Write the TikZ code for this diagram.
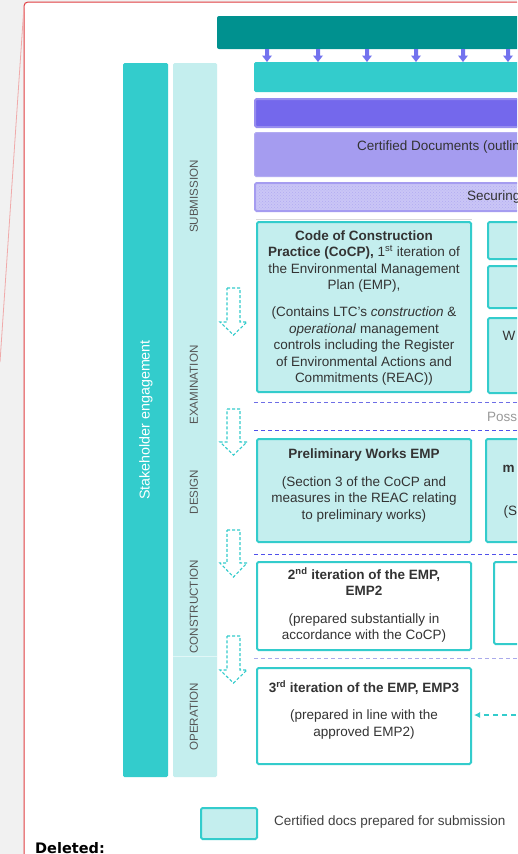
\documentclass[tikz,border=0pt]{standalone}
\usepackage{fontspec}
\setmainfont{Liberation Sans}
\newfontfamily\delfont{DejaVu Sans}
\usetikzlibrary{arrows.meta,patterns}
\definecolor{dteal}{RGB}{0,145,143}
\definecolor{tealb}{RGB}{51,204,204}
\definecolor{lteal}{RGB}{196,238,238}
\definecolor{dpurp}{RGB}{116,104,236}
\definecolor{lpurp}{RGB}{165,156,240}
\definecolor{hpurp}{RGB}{202,198,246}
\definecolor{arrp}{RGB}{114,114,238}
\definecolor{txtc}{RGB}{51,51,51}
\definecolor{redb}{RGB}{224,60,64}
\definecolor{pinkl}{RGB}{240,170,170}
\definecolor{bgg}{RGB}{241,241,241}
\definecolor{phasetxt}{RGB}{85,85,85}
\definecolor{sepa}{RGB}{110,110,230}
\definecolor{sepb}{RGB}{80,80,235}
\definecolor{sepc}{RGB}{170,170,235}
\newcommand\mystrut{\rule{0pt}{12pt}}
\newcommand\dnarrow[3]{%
  \draw[darr] (227,#1) -- (240,#1) -- (240,#2) -- (247,#2) -- (233.5,#3) -- (220,#2) -- (227,#2) -- cycle;}
\begin{document}
\begin{tikzpicture}[x=1pt,y=-1pt,
  rect/.style={inner sep=0pt, outer sep=0pt, anchor=north west},
  cbox/.style={rect, fill=lteal, draw=tealb, line width=2pt, rounded corners=1.5pt},
  wbox/.style={rect, fill=white, draw=tealb, line width=2pt, rounded corners=1.5pt},
  btxt/.style={inner sep=0pt, anchor=north, align=center, text=txtc, font=\fontsize{13.5}{16.5}\selectfont},
  ltxt/.style={inner sep=0pt, anchor=west, text=txtc, font=\fontsize{13.5}{16.5}\selectfont},
  ptxt/.style={rotate=90, text=phasetxt, font=\fontsize{11.6}{14}\selectfont, inner sep=0pt},
  sepline/.style={line width=1pt, dash pattern=on 4pt off 3pt},
  darr/.style={draw=tealb, line width=1.1pt, dash pattern=on 3pt off 2pt},
]
\useasboundingbox (0,0) rectangle (517,854);
\clip (0,0) rectangle (517,854);
% page background
\fill[bgg] (0,0) rectangle (517,854);
\fill[white, rounded corners=4pt] (24,2) rectangle (560,900);
\draw[redb, line width=1pt, rounded corners=4pt] (24,900) -- (24,2) -- (560,2);
\draw[pinkl, line width=0.8pt] (24,6) -- (0,362);

% top bars
\node[rect, fill=dteal, rounded corners=2pt, minimum width=330pt, minimum height=33pt] (topbar) at (217,16) {};
\foreach \ax in {267,318,367,416,463,508}{
  \fill[arrp] (\ax-2,49) -- (\ax+2,49) -- (\ax+2,55.5) -- (\ax+5,55.5) -- (\ax,62) -- (\ax-5,55.5) -- (\ax-2,55.5) -- cycle;}
\node[rect, fill=tealb, rounded corners=1.5pt, minimum width=300pt, minimum height=30pt] (bar1) at (254,62) {};
\node[rect, fill=dpurp, draw=lpurp!70!dpurp, line width=2pt, rounded corners=1.5pt, minimum width=300pt, minimum height=28pt] (bar2) at (255,99) {};
\node[rect, fill=lpurp, draw=lpurp!85!white, line width=1pt, rounded corners=1.5pt, minimum width=300pt, minimum height=44pt] (bar3) at (254.5,132.5) {};
\node[ltxt] (bar3t) at (357,147) {Certified Documents (outline};
\node[rect, fill=hpurp, draw=lpurp, line width=2pt, rounded corners=1.5pt, minimum width=300pt, minimum height=28pt] (bar4) at (255,183) {};
\fill[pattern=crosshatch dots, pattern color=lpurp!85] (257,185) rectangle (530,209);
\node[ltxt] (bar4t) at (467,197) {Securing};
\draw[black!15, line width=0.8pt] (256,219) -- (472,219);

% left columns
\node[rect, fill=tealb, rounded corners=1.5pt, minimum width=45pt, minimum height=714pt] (stake) at (123,63) {};
\node[rotate=90, text=white, font=\fontsize{14.3}{17}\selectfont, inner sep=0pt] (staket) at (146,420) {Stakeholder engagement};
\node[rect, fill=lteal, rounded corners=1.5pt, minimum width=44pt, minimum height=714pt] (phase) at (173,63) {};
\draw[white!50!lteal, line width=0.8pt] (173,656) -- (217,656);
\node[ptxt] (p1) at (194,196.5) {SUBMISSION};
\node[ptxt] (p2) at (194,385) {EXAMINATION};
\node[ptxt] (p3) at (194,492) {DESIGN};
\node[ptxt] (p4) at (194,607) {CONSTRUCTION};
\node[ptxt] (p5) at (194,717) {OPERATION};

% dashed block arrows
\dnarrow{288}{322}{335}
\dnarrow{409}{442}{455}
\dnarrow{530}{563}{577}
\dnarrow{636}{670}{683}

% CoCP box
\node[cbox, minimum width=214pt, minimum height=170pt] (cocp) at (257,222) {};
\node[btxt] (cocpt) at (364,228) {\mystrut\textbf{Code of Construction}\\
\textbf{Practice (CoCP),} 1\textsuperscript{st} iteration of\\
the Environmental Management\\
Plan (EMP),\\[10.5pt]
(Contains LTC's \textit{construction} \&\\
\textit{operational} management\\
controls including the Register\\
of Environmental Actions and\\
Commitments (REAC))};
\node[cbox, minimum width=60pt, minimum height=37pt] (ra) at (488,222) {};
\node[cbox, minimum width=60pt, minimum height=42pt] (rb) at (488,266) {};
\node[cbox, minimum width=60pt, minimum height=75pt] (rc) at (488,318) {};
\node[ltxt] (rct) at (502.5,336) {W};

% separators
\draw[sepline, sepa] (254,402) -- (530,402);
\node[ltxt, text=black!40] (poss) at (487,417) {Poss};
\draw[sepline, sepb] (254,430) -- (530,430);

% Preliminary works
\node[cbox, minimum width=214pt, minimum height=103pt] (prelim) at (257,439) {};
\node[btxt] (prelimt) at (364,446) {\mystrut\textbf{Preliminary Works EMP}\\[11.5pt]
(Section 3 of the CoCP and\\
measures in the REAC relating\\
to preliminary works)};
\node[cbox, minimum width=60pt, minimum height=103pt] (rd) at (486,439) {};
\node[ltxt] (rdt1) at (502.5,469) {\textbf{m}};
\node[ltxt] (rdt2) at (503.5,512) {(S};

\draw[sepline, sepb] (254,554) -- (530,554);

% 2nd iteration
\node[wbox, minimum width=214pt, minimum height=88pt] (emp2) at (257,562) {};
\node[btxt] (emp2t) at (364,567) {\mystrut\textbf{2\textsuperscript{nd} iteration of the EMP,}\\
\textbf{EMP2}\\[11pt]
(prepared substantially in\\
accordance with the CoCP)};
\node[wbox, minimum width=60pt, minimum height=82pt] (re) at (494,562) {};

\draw[sepline, sepc] (254,658) -- (530,658);

% 3rd iteration
\node[wbox, minimum width=214pt, minimum height=96pt] (emp3) at (257,668) {};
\node[btxt] (emp3t) at (364,680) {\mystrut\textbf{3\textsuperscript{rd} iteration of the EMP, EMP3}\\[11pt]
(prepared in line with the\\
approved EMP2)};
\coordinate (rin) at (525,715);
\draw[tealb, line width=1.1pt, dash pattern=on 5pt off 4pt, -{Latex[length=6pt,width=6pt]}] (rin) -- ([xshift=3pt]emp3.east |- rin);

% legend
\node[cbox, minimum width=56pt, minimum height=31pt] (leg) at (201,808) {};
\node[ltxt, text=black!75] (legt) at (274,822) {Certified docs prepared for submission};

\node[inner sep=0pt, anchor=base west, font=\delfont\bfseries\fontsize{14.5}{17}\selectfont] (del) at (35,853.5) {Deleted:};
\end{tikzpicture}
\end{document}
